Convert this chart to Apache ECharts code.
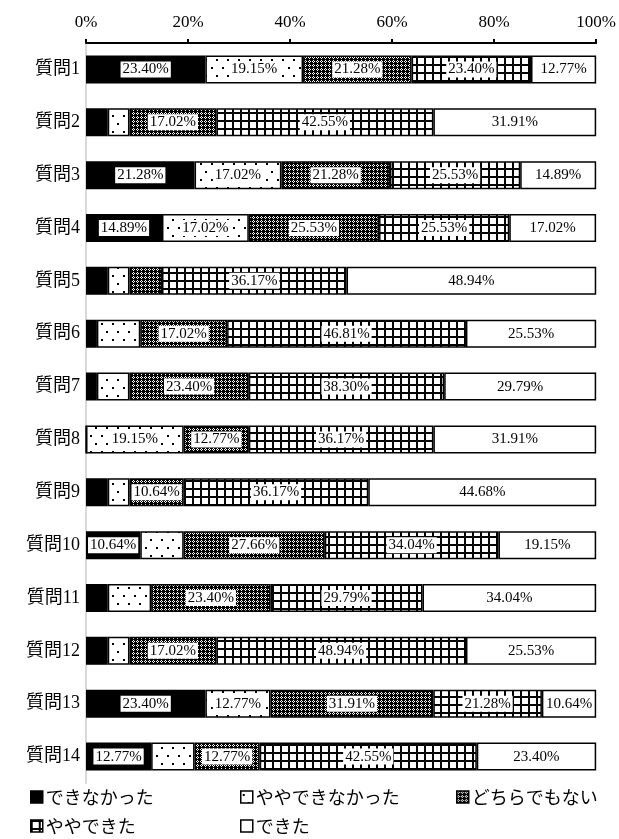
<!DOCTYPE html>
<html>
<head>
<meta charset="utf-8">
<script src="https://cdn.jsdelivr.net/npm/echarts@6/dist/echarts.min.js"></script>
<style>
  html, body { margin: 0; padding: 0; background: #fff; }
  #chart { width: 619px; height: 839px; }
</style>
</head>
<body>
<div id="chart"></div>
<script>
// Questions (rows, top to bottom)
const questions = ['質問1','質問2','質問3','質問4','質問5','質問6','質問7','質問8','質問9','質問10','質問11','質問12','質問13','質問14'];

// Response categories
const responseNames = ['できなかった','ややできなかった','どちらでもない','ややできた','できた'];

// Share of answers per question, in percent
const couldNot      = [23.40, 4.26, 21.28, 14.89, 4.26, 2.13, 2.13, 0.00, 4.26, 10.64, 4.26, 4.26, 23.40, 12.77];
const slightlyNot   = [19.15, 4.26, 17.02, 17.02, 4.26, 8.51, 6.38, 19.15, 4.26, 8.51, 8.51, 4.26, 12.77, 8.51];
const neither       = [21.28, 17.02, 21.28, 25.53, 6.38, 17.02, 23.40, 12.77, 10.64, 27.66, 23.40, 17.02, 31.91, 12.77];
const slightlyCould = [23.40, 42.55, 25.53, 25.53, 36.17, 46.81, 38.30, 36.17, 36.17, 34.04, 29.79, 48.94, 21.28, 42.55];
const could         = [12.77, 31.91, 14.89, 17.02, 48.94, 25.53, 29.79, 31.91, 44.68, 19.15, 34.04, 25.53, 10.64, 23.40];

// Axis ticks
const tickValues = [0, 20, 40, 60, 80, 100];

const seriesValues = [couldNot, slightlyNot, neither, slightlyCould, could];

// Monochrome fill patterns drawn on small canvases
function makeTile(w, h, draw) {
  const c = document.createElement('canvas');
  c.width = w; c.height = h;
  const g = c.getContext('2d');
  draw(g, w, h);
  return { image: c, repeat: 'repeat' };
}

function bitmapTile(rows) {
  return makeTile(rows[0].length, rows.length, (g, w, h) => {
    g.fillStyle = '#fff'; g.fillRect(0, 0, w, h);
    g.fillStyle = '#000';
    rows.forEach((r, y) => {
      for (let x = 0; x < r.length; x++) if (r[x] === 'B') g.fillRect(x, y, 1, 1);
    });
  });
}

const dotPattern = makeTile(11, 16, (g, w, h) => {
  g.fillStyle = '#fff'; g.fillRect(0, 0, w, h);
  g.fillStyle = '#000';
  g.fillRect(2, 3, 2, 2);
  g.fillRect(7, 11, 2, 2);
});

const checkPattern = bitmapTile(['BWBB', 'WBWB', 'BWBB', 'BBBB']);

const gridPattern = makeTile(8, 8, (g, w, h) => {
  g.fillStyle = '#fff'; g.fillRect(0, 0, w, h);
  g.fillStyle = '#000';
  g.fillRect(0, 0, 2, h);
  g.fillRect(0, 0, w, 2);
});

const fills = ['#000000', dotPattern, checkPattern, gridPattern, '#ffffff'];

const serifJP = "'Liberation Serif', 'Noto Sans CJK JP', serif";

// Only segments of 10% or more carry a value label
const series = responseNames.map((name, i) => ({
  name: name,
  type: 'bar',
  stack: 'total',
  barWidth: 28,
  data: seriesValues[i].map(v => ({ value: v, label: { show: v >= 10 } })),
  itemStyle: {
    color: fills[i],
    borderColor: '#000',
    borderWidth: 1.5
  },
  label: {
    position: 'inside',
    formatter: p => p.value.toFixed(2) + '%',
    color: '#000',
    fontFamily: "'Liberation Serif', serif",
    fontSize: 15,
    backgroundColor: '#fff',
    padding: [1, 2, 0, 2]
  },
  emphasis: { disabled: true },
  animation: false
}));

// One legend block per entry, placed on a two-row grid
const legendSlots = [[30, 788], [240, 788], [456, 788], [30, 817], [240, 817]];
const legends = responseNames.map((n, j) => ({
  left: legendSlots[j][0],
  top: legendSlots[j][1],
  padding: 0,
  itemWidth: 12,
  itemHeight: 12,
  icon: 'rect',
  itemStyle: { borderColor: '#000', borderWidth: 1.5 },
  selectedMode: false,
  data: [n],
  textStyle: { fontFamily: "'Noto Sans CJK JP', sans-serif", fontSize: 18, color: '#000', padding: [0, 0, 0, -2] }
}));

const chart = echarts.init(document.getElementById('chart'), null, { renderer: 'canvas' });

chart.setOption({
  backgroundColor: '#fff',
  animation: false,
  grid: { left: 86, right: 22, top: 43, height: 740, containLabel: false },
  xAxis: {
    type: 'value',
    position: 'top',
    min: tickValues[0],
    max: tickValues[tickValues.length - 1],
    interval: tickValues[1] - tickValues[0],
    axisLine: { show: true, lineStyle: { color: '#000', width: 2 } },
    axisTick: { show: true, length: 4, lineStyle: { color: '#000', width: 2 } },
    axisLabel: {
      formatter: v => v + '%',
      color: '#000',
      fontFamily: "'Liberation Serif', serif",
      fontSize: 17,
      margin: 12
    },
    splitLine: { show: false }
  },
  yAxis: {
    type: 'category',
    inverse: true,
    data: questions,
    axisLine: { show: true, lineStyle: { color: '#d9d9d9', width: 2 } },
    axisTick: { show: false },
    axisLabel: {
      color: '#000',
      fontFamily: serifJP,
      fontSize: 18,
      margin: 6
    }
  },
  legend: legends,
  series: series
});
</script>
</body>
</html>
